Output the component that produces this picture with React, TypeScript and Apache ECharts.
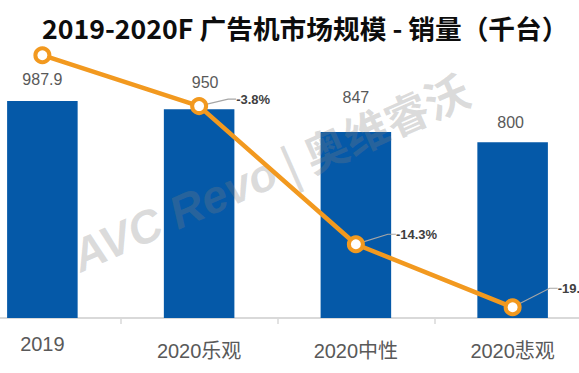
import React, { useEffect, useRef } from "react";
import * as echarts from "echarts";

const categories = ["2019", "2020乐观", "2020中性", "2020悲观"];
const sales = [987.9, 950, 847, 800];
const growthLabels = ["", "-3.8%", "-14.3%", "-19.0%"];
const titleText = "2019-2020F 广告机市场规模 - 销量（千台）";

// style-only arrays (label placement tweaks)
const barLabelDistance = [13, 19, 26, 12];
const barLabelDx = [0, 6, 0, -2];
const pctDx = [0, 28, 31, 36];
const pctDy = [0, -7, -10, -19];

export default function App() {
  const ref = useRef<HTMLDivElement>(null);
  useEffect(() => {
    if (!ref.current) return;
    const chart = echarts.init(ref.current, null, { renderer: "svg" });
    const option: any = {
      animation: false,
      backgroundColor: "#ffffff",
      title: {
        text: titleText,
        left: 37,
        top: 8,
        textStyle: {
          fontSize: 26.7,
          fontWeight: "bold",
          color: "#0D0D0D",
          lineHeight: 28,
          fontFamily: '"Noto Sans CJK SC", "Noto Sans", sans-serif',
        },
      },
      grid: {
        left: -36,
        right: -12,
        top: 39,
        bottom: 55,
        containLabel: false,
        outerBoundsMode: "none",
      },
      xAxis: {
        type: "category",
        data: categories,
        axisLine: { lineStyle: { color: "#D9D9D9", width: 2 } },
        axisTick: { show: true, length: 6, lineStyle: { color: "#D9D9D9", width: 1.5 } },
        axisLabel: {
          interval: 0,
          margin: 15,
          color: "#595959",
          fontSize: 20,
          fontFamily: '"Liberation Sans", "Noto Sans CJK SC", sans-serif',
          formatter: (v: string, i: number) => (i === 0 ? `{a|${v}}` : `{b|${v}}`),
          rich: {
            a: { fontSize: 20, lineHeight: 22, color: "#595959" },
            b: { fontSize: 20, lineHeight: 22, color: "#595959", padding: [14, 0, 0, 0] },
          },
        },
      },
      yAxis: [
        { type: "value", min: 0, max: 1270, show: false },
        { type: "value", min: 792, max: 1000, show: false },
      ],
      graphic: [
        {
          type: "text",
          x: 270,
          y: 172,
          rotation: 0.415,
          z: 3,
          style: {
            text: "{a|AVC Revo}{b| | 奥维睿沃}",
            align: "center",
            verticalAlign: "middle",
            rich: {
              a: {
                fontSize: 46,
                fontStyle: "italic",
                fontWeight: "bold",
                fontFamily: '"Liberation Sans", sans-serif',
                fill: "rgba(128,128,128,0.28)",
              },
              b: {
                fontSize: 44,
                fontWeight: "bold",
                fontFamily: '"Noto Sans CJK SC", sans-serif',
                fill: "rgba(128,128,128,0.28)",
              },
            },
          },
        },
      ],
      series: [
        {
          type: "bar",
          barWidth: "45%",
          z: 2,
          data: sales.map((v, i) => ({
            value: v,
            label: { distance: barLabelDistance[i], offset: [barLabelDx[i], 0] },
          })),
          itemStyle: { color: "#0559A8" },
          label: {
            show: true,
            position: "top",
            fontSize: 16,
            color: "#595959",
            fontFamily: '"Liberation Sans", sans-serif',
          },
        },
        {
          type: "line",
          yAxisIndex: 1,
          z: 5,
          symbol: "circle",
          symbolSize: 14,
          data: sales.map((v, i) => ({
            value: v,
            label: { show: growthLabels[i] !== "" },
            labelLine: { show: growthLabels[i] !== "" },
          })),
          lineStyle: { color: "#F2991F", width: 4.5 },
          itemStyle: { color: "#ffffff", borderColor: "#F2991F", borderWidth: 4 },
          label: {
            show: true,
            position: "right",
            distance: 0,
            formatter: (p: any) => growthLabels[p.dataIndex],
            fontWeight: "bold",
            fontSize: 13,
            color: "#404040",
            fontFamily: '"Liberation Sans", sans-serif',
          },
          labelLine: {
            show: true,
            length2: 8,
            lineStyle: { color: "#A6A6A6", width: 1.2 },
          },
          labelLayout: (p: any) => ({ dx: pctDx[p.dataIndex], dy: pctDy[p.dataIndex] }),
        },
      ],
    };
    chart.setOption(option);
    return () => chart.dispose();
  }, []);
  return (
    <div
      ref={ref}
      style={{ position: "fixed", left: 0, top: 0, width: 579, height: 373, background: "#fff" }}
    />
  );
}
